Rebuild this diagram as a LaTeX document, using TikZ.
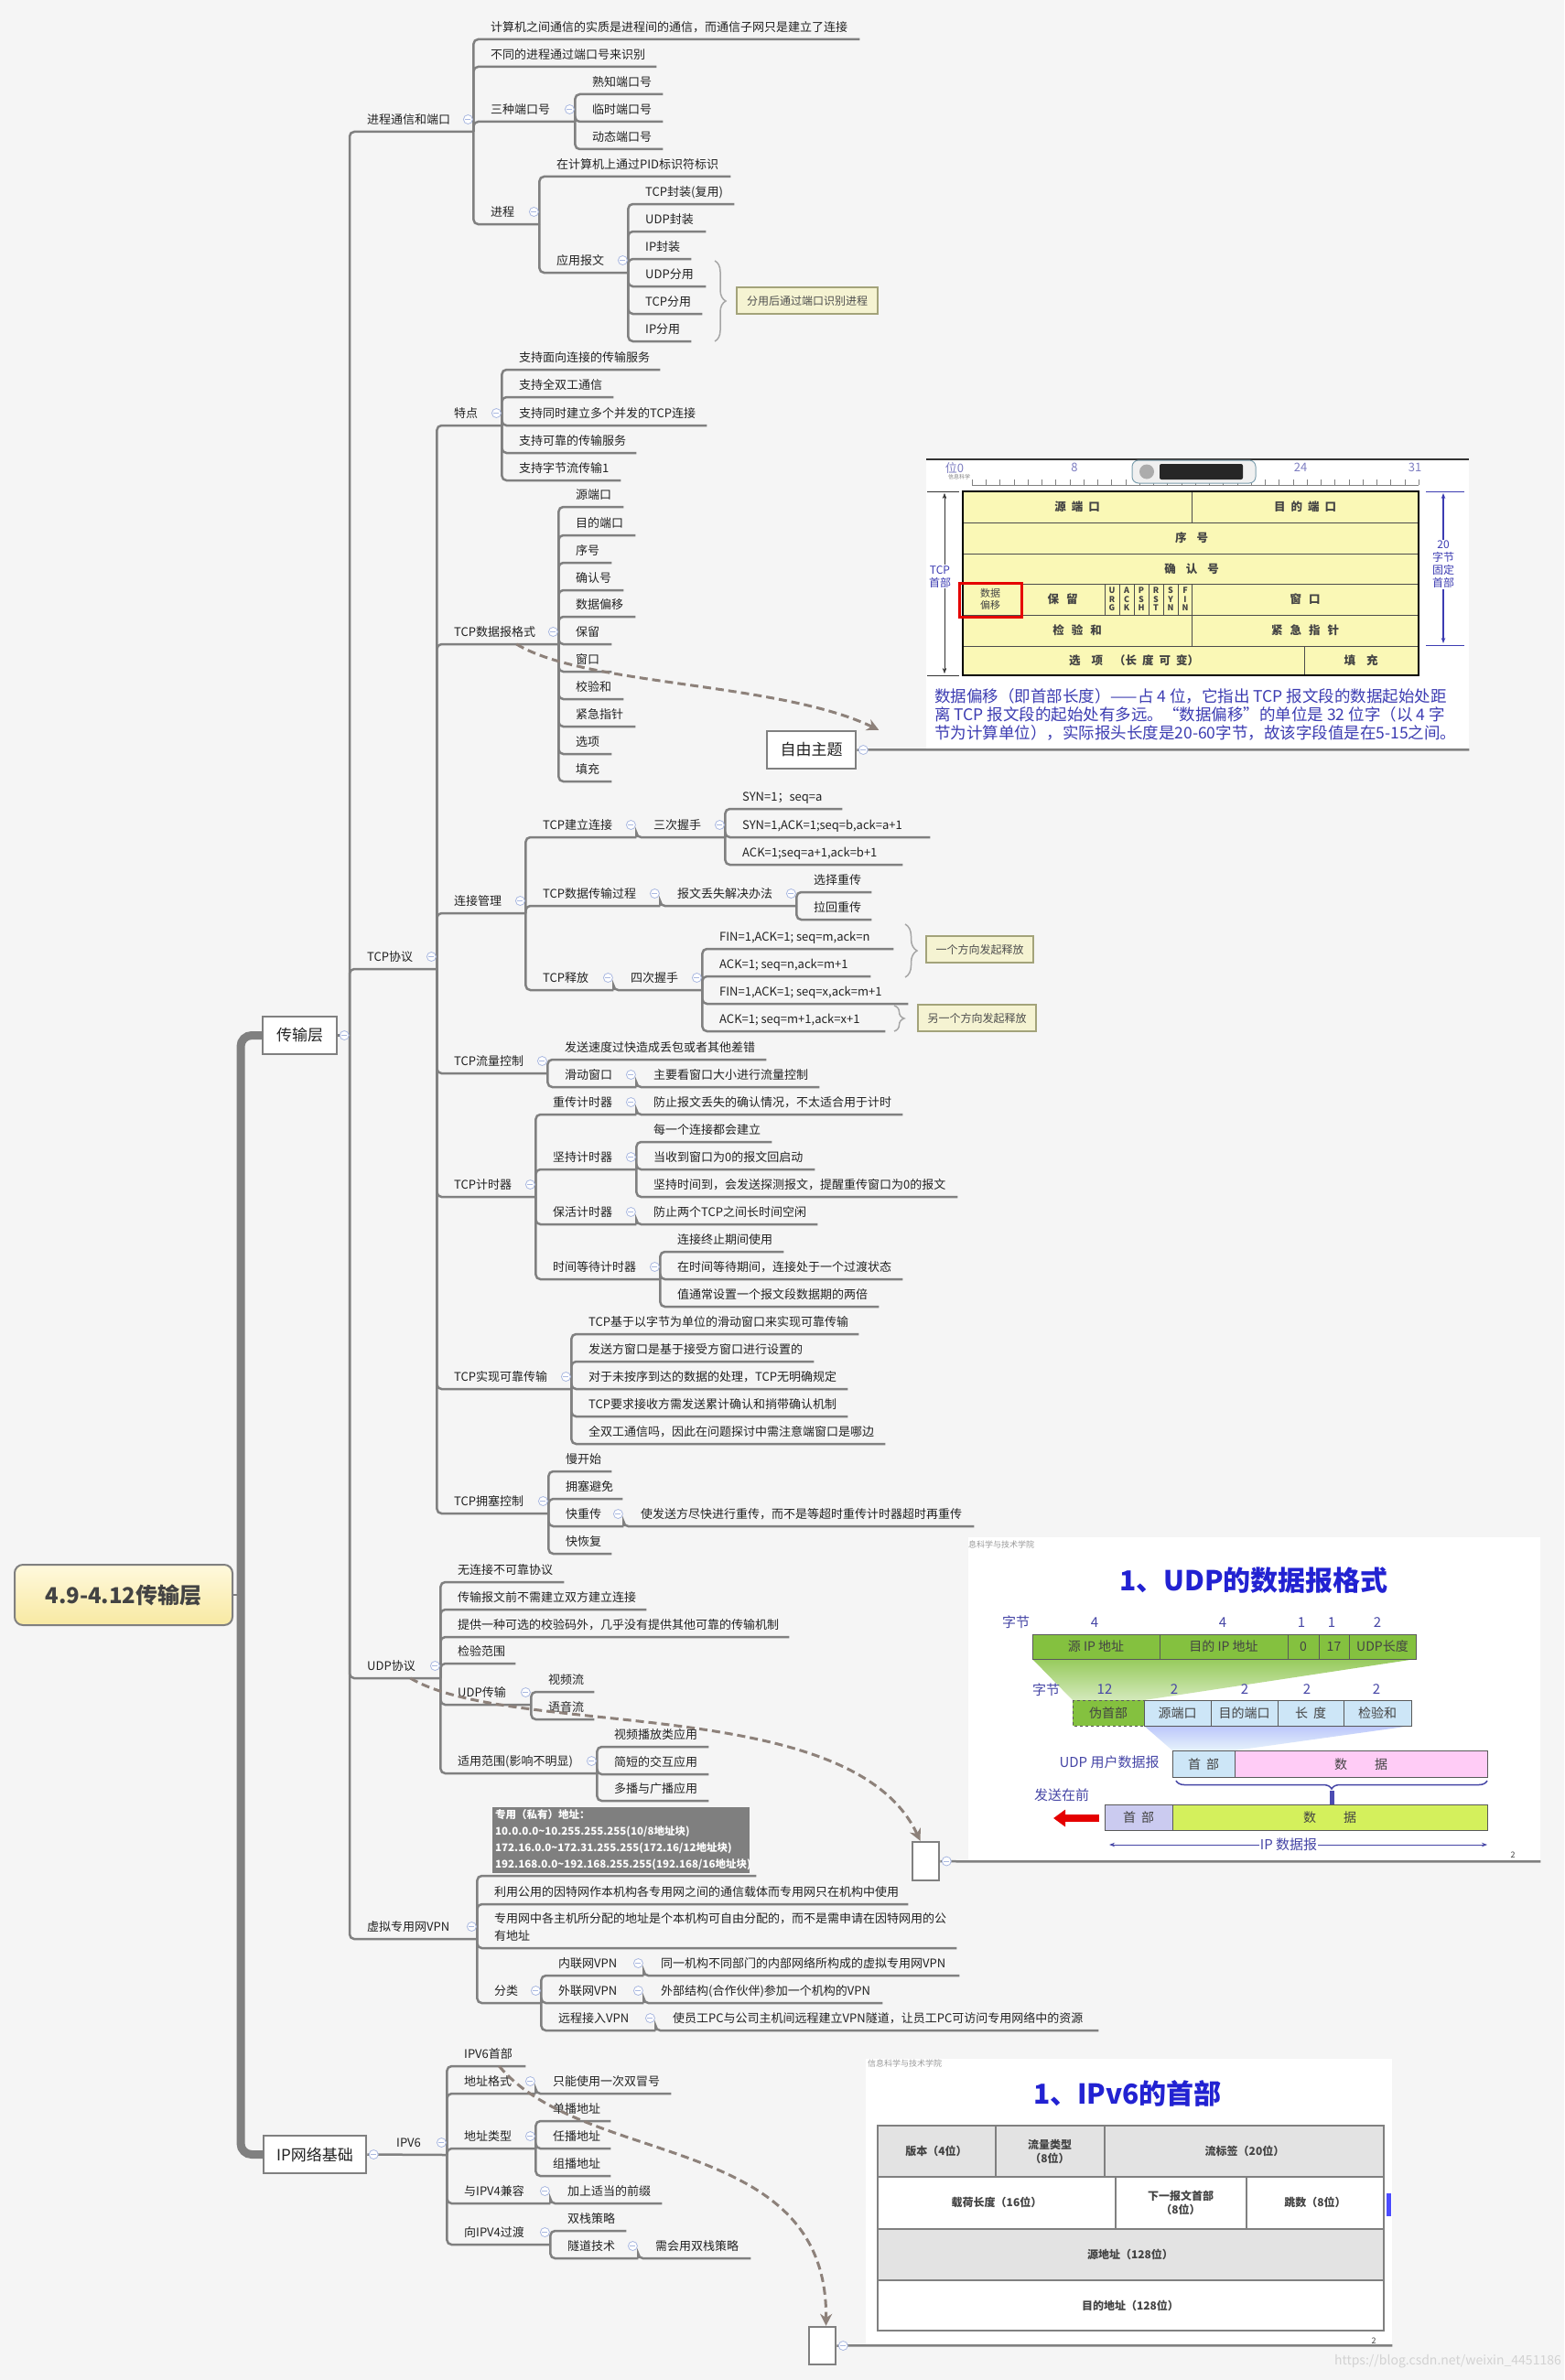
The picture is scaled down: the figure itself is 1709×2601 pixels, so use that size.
\documentclass[tikz,border=0pt]{standalone}
\usepackage{fontspec}
\setmainfont{Noto Sans CJK SC}
\usepackage{xcolor}
\usetikzlibrary{arrows.meta,decorations.pathreplacing}
\definecolor{bg}{HTML}{F5F5F5}
\definecolor{branch}{HTML}{808080}
\definecolor{ink}{HTML}{222222}
\definecolor{btn}{HTML}{A9B8E0}
\definecolor{calloutfill}{HTML}{F5F3D2}
\definecolor{calloutline}{HTML}{A3A37A}
\definecolor{relline}{HTML}{8D817A}
\definecolor{slideblue}{HTML}{2222D2}
\definecolor{capblue}{HTML}{3C3CB2}
\definecolor{labblue}{HTML}{4646A6}
\definecolor{hdrfill}{HTML}{FAF8B6}
\definecolor{notegray}{HTML}{7F7F7F}
\definecolor{udpgreen}{HTML}{84C13F}
\definecolor{udplight}{HTML}{CDE6F7}
\definecolor{udppink}{HTML}{FFCCF6}
\definecolor{iplav}{HTML}{CBCBF0}
\definecolor{iplime}{HTML}{D4F05C}
\definecolor{v6gray}{HTML}{E3E3E3}
\definecolor{rootA}{HTML}{FFF9DD}
\definecolor{rootB}{HTML}{F8E9A2}
% topic: name, branch x, line y, line end x, text
\newcommand\mmnode[5]{\node[topic] (#1) at (#2,#3) {\makebox[\dimexpr#4pt-#2pt\relax][l]{\hspace{19pt}#5}};}
\newcommand\lsp{\hspace{6pt}}

\begin{document}
\begin{tikzpicture}[x=1pt,y=-1pt,
  topic/.style={anchor=south west, inner sep=0pt, text height=12pt, text depth=8pt, font=\fontsize{13}{15}\selectfont, text=ink},
  ln/.style={draw=branch, line width=2.5pt, rounded corners=5pt},
  trunk/.style={draw=branch, line width=9pt, rounded corners=12pt},
  cbtn/.style={circle, draw=btn, fill=white, line width=0.8pt, minimum size=10pt, inner sep=0pt,
    path picture={\draw[btn, line width=0.8pt] ([xshift=-3pt]path picture bounding box.center) -- ([xshift=3pt]path picture bounding box.center);}},
  tbox/.style={draw=branch, line width=2.5pt, fill=white, inner sep=0pt, font=\fontsize{17}{20}\selectfont, text=ink},
  rootbox/.style={draw=branch, line width=2pt, rounded corners=9pt, top color=rootA, bottom color=rootB, minimum width=238pt, minimum height=66pt, font=\fontsize{24}{28}\selectfont\bfseries, text=ink!85},
  callout/.style={draw=calloutline, line width=1.5pt, fill=calloutfill, inner sep=0pt, minimum height=29pt, font=\fontsize{12}{14}\selectfont, text=ink!80},
  brc/.style={draw=gray!70, line width=1.5pt, decorate, decoration={brace, amplitude=12pt}},
  rel/.style={draw=relline, line width=3pt, dash pattern=on 9pt off 5pt, -{Stealth[length=13pt,width=13pt]}},
  note/.style={anchor=south west, fill=notegray, text=white, font=\fontsize{11.5}{18}\selectfont\bfseries, align=left, text width=275pt, minimum height=72pt, inner xsep=3pt, inner ysep=2pt},
  shot/.style={anchor=north west, fill=white, inner sep=0pt},
  rulab/.style={font=\fontsize{13}{15}\selectfont, text=labblue!70, inner sep=0pt},
  hlab/.style={font=\fontsize{12.5}{14}\selectfont\bfseries, text=ink!85, inner sep=0pt, align=center},
  slab/.style={font=\fontsize{15}{17}\selectfont, text=labblue, inner sep=1pt},
  ulab/.style={font=\fontsize{14}{16}\selectfont, text=ink!85, inner sep=0pt},
  ucell/.style={draw=gray!70!black, line width=1pt},
  v6lab/.style={font=\fontsize{12}{15}\selectfont\bfseries, text=ink!85, align=center, inner sep=0pt},
  slidetitle/.style={font=\fontsize{30}{34}\selectfont\bfseries, text=slideblue, inner sep=0pt},
  school/.style={anchor=west, font=\fontsize{9}{10}\selectfont, text=gray!80, inner sep=0pt}]

  % page
  \fill[bg] (0,0) rectangle (1709,2601);
  \useasboundingbox (0,0) rectangle (1709,2601);

  % root, main trunk
  \node[rootbox] (root) at (135,1743) {4.9-4.12传输层};
  \node[tbox, minimum width=81pt, minimum height=41pt] (trans) at (327.5,1131.5) {传输层};
  \node[tbox, minimum width=112pt, minimum height=41pt] (ipnet) at (344,2354.5) {IP网络基础};
  \coordinate (trunk) at (263,1743);
  \coordinate (transB) at (382,1131.5);
  \draw[trunk] (trans.west) -| (trunk) |- (ipnet.west);
  \draw[ln] (root.east) -- (trunk);
  \draw[ln] (trans.east) -- (transB);

  % 进程通信和端口
  \mmnode{pc}{382}{144}{517}{进程通信和端口}
  \mmnode{pc1}{517}{43}{939}{计算机之间通信的实质是进程间的通信，而通信子网只是建立了连接}
  \mmnode{pc2}{517}{73}{717}{不同的进程通过端口号来识别}
  \mmnode{pc3}{517}{133}{628}{三种端口号}
  \mmnode{pc31}{628}{103}{724}{熟知端口号}
  \mmnode{pc32}{628}{133}{724}{临时端口号}
  \mmnode{pc33}{628}{163}{724}{动态端口号}
  \mmnode{pc4}{517}{245}{589}{进程}
  \mmnode{pc41}{589}{193}{798}{在计算机上通过PID标识符标识}
  \mmnode{pc42}{589}{298}{686}{应用报文}
  \foreach \n/\y/\e/\t in {1/223/802/TCP封装(复用), 2/253/771/UDP封装, 3/283/755/IP封装,
                          4/313/771/UDP分用, 5/343/767/TCP分用, 6/373/755/IP分用}
    {\mmnode{pc42\n}{686}{\y}{\e}{\t}}
  \draw[brc] (781,285) -- (781,373);
  \node[callout, minimum width=154pt] (co1) at (882,328.5) {分用后通过端口识别进程};

  % TCP协议
  \mmnode{tcp}{382}{1059}{477}{TCP协议}
  \mmnode{td}{477}{465}{548}{特点}
  \foreach \n/\y/\e/\t in {1/404/721/支持面向连接的传输服务, 2/434/670/支持全双工通信,
                          3/465/772/支持同时建立多个并发的TCP连接, 4/495/695/支持可靠的传输服务,
                          5/525/678/支持字节流传输1}
    {\mmnode{td\n}{548}{\y}{\e}{\t}}
  \mmnode{fmt}{477}{704}{610}{TCP数据报格式}
  \foreach \n/\y/\e/\t in {1/554/681/源端口, 2/585/694/目的端口, 3/615/668/序号, 4/645/681/确认号,
                          5/674/694/数据偏移, 6/704/668/保留, 7/734/668/窗口, 8/764/681/校验和,
                          9/794/694/紧急指针, 10/824/668/选项, 11/854/668/填充}
    {\mmnode{f\n}{610}{\y}{\e}{\t}}
  \mmnode{cm}{477}{998}{574}{连接管理}
  \mmnode{cm1}{574}{915}{695}{TCP建立连接}
  \mmnode{cm11}{695}{915}{792}{三次握手}
  \mmnode{h1}{792}{884}{920}{SYN=1；seq=a}
  \mmnode{h2}{792}{915}{1016}{SYN=1,ACK=1;seq=b,ack=a+1}
  \mmnode{h3}{792}{945}{986}{ACK=1;seq=a+1,ack=b+1}
  \mmnode{cm2}{574}{990}{721}{TCP数据传输过程}
  \mmnode{cm21}{721}{990}{870}{报文丢失解决办法}
  \mmnode{r1}{870}{975}{952}{选择重传}
  \mmnode{r2}{870}{1005}{952}{拉回重传}
  \mmnode{cm3}{574}{1082}{670}{TCP释放}
  \mmnode{cm31}{670}{1082}{767}{四次握手}
  \mmnode{w1}{767}{1037}{976}{FIN=1,ACK=1; seq=m,ack=n}
  \mmnode{w2}{767}{1067}{951}{ACK=1; seq=n,ack=m+1}
  \mmnode{w3}{767}{1097}{992}{FIN=1,ACK=1; seq=x,ack=m+1}
  \mmnode{w4}{767}{1127}{967}{ACK=1; seq=m+1,ack=x+1}
  \draw[brc, decoration={brace, amplitude=13pt}] (989,1010) -- (989,1068);
  \node[callout, minimum width=117pt] (co2) at (1070.5,1037.5) {一个方向发起释放};
  \draw[brc, decoration={brace, amplitude=11pt}] (977,1099) -- (977,1127);
  \node[callout, minimum width=129pt] (co3) at (1067.5,1112.5) {另一个方向发起释放};
  \mmnode{fc}{477}{1173}{598}{TCP流量控制}
  \mmnode{fc1}{598}{1158}{837}{发送速度过快造成丢包或者其他差错}
  \mmnode{fc2}{598}{1188}{695}{滑动窗口}
  \mmnode{fc21}{695}{1188}{895}{主要看窗口大小进行流量控制}
  \mmnode{tm}{477}{1308}{585}{TCP计时器}
  \mmnode{tm1}{585}{1218}{695}{重传计时器}
  \mmnode{tm11}{695}{1218}{986}{防止报文丢失的确认情况，不太适合用于计时}
  \mmnode{tm2}{585}{1278}{695}{坚持计时器}
  \mmnode{tm21}{695}{1248}{843}{每一个连接都会建立}
  \mmnode{tm22}{695}{1278}{890}{当收到窗口为0的报文回启动}
  \mmnode{tm23}{695}{1308}{1046}{坚持时间到，会发送探测报文，提醒重传窗口为0的报文}
  \mmnode{tm3}{585}{1338}{695}{保活计时器}
  \mmnode{tm31}{695}{1338}{893}{防止两个TCP之间长时间空闲}
  \mmnode{tm4}{585}{1398}{721}{时间等待计时器}
  \mmnode{tm41}{721}{1368}{856}{连接终止期间使用}
  \mmnode{tm42}{721}{1398}{986}{在时间等待期间，连接处于一个过渡状态}
  \mmnode{tm43}{721}{1428}{960}{值通常设置一个报文段数据期的两倍}
  \mmnode{rt}{477}{1518}{624}{TCP实现可靠传输}
  \foreach \n/\y/\e/\t in {1/1458/938/TCP基于以字节为单位的滑动窗口来实现可靠传输,
                          2/1488/889/发送方窗口是基于接受方窗口进行设置的,
                          3/1518/926/对于未按序到达的数据的处理，TCP无明确规定,
                          4/1548/926/TCP要求接收方需发送累计确认和捎带确认机制,
                          5/1578/967/全双工通信吗，因此在问题探讨中需注意端窗口是哪边}
    {\mmnode{rt\n}{624}{\y}{\e}{\t}}
  \mmnode{cc}{477}{1654}{599}{TCP拥塞控制}
  \mmnode{cc1}{599}{1608}{668}{慢开始}
  \mmnode{cc2}{599}{1638}{680}{拥塞避免}
  \mmnode{cc3}{599}{1668}{681}{快重传}
  \mmnode{cc31}{681}{1668}{1064}{使发送方尽快进行重传，而不是等超时重传计时器超时再重传}
  \mmnode{cc4}{599}{1698}{668}{快恢复}

  % UDP协议
  \mmnode{udp}{382}{1834}{481}{UDP协议}
  \mmnode{u1}{481}{1729}{616}{无连接不可靠协议}
  \mmnode{u2}{481}{1759}{706}{传输报文前不需建立双方建立连接}
  \mmnode{u3}{481}{1789}{862}{提供一种可选的校验码外，几乎没有提供其他可靠的传输机制}
  \mmnode{u4}{481}{1818}{563}{检验范围}
  \mmnode{u5}{481}{1863}{580}{UDP传输}
  \mmnode{u51}{580}{1849}{649}{视频流}
  \mmnode{u52}{580}{1879}{649}{语音流}
  \mmnode{u6}{481}{1938}{652}{适用范围(影响不明显)}
  \mmnode{u61}{652}{1909}{774}{视频播放类应用}
  \mmnode{u62}{652}{1939}{774}{简短的交互应用}
  \mmnode{u63}{652}{1968}{774}{多播与广播应用}

  % 虚拟专用网VPN
  \mmnode{vpn}{382}{2119}{521}{虚拟专用网VPN}
  \mmnode{v0}{521}{2050}{826}{}
  \node[note] (v0n) at (538,2047) {专用（私有）地址：\\10.0.0.0\textasciitilde10.255.255.255(10/8地址块)\\172.16.0.0\textasciitilde172.31.255.255(172.16/12地址块)\\192.168.0.0\textasciitilde192.168.255.255(192.168/16地址块)};
  \mmnode{v1}{521}{2081}{992}{利用公用的因特网作本机构各专用网之间的通信载体而专用网只在机构中使用}
  \mmnode{v2}{521}{2129}{1045}{\begin{tabular}[b]{@{}l@{}}专用网中各主机所分配的地址是个本机构可自由分配的，而不是需申请在因特网用的公\\[4pt]有地址\end{tabular}}
  \mmnode{v3}{521}{2189}{591}{分类}
  \mmnode{v31}{591}{2159}{703}{内联网VPN}
  \mmnode{v311}{703}{2159}{1048}{同一机构不同部门的内部网络所构成的虚拟专用网VPN}
  \mmnode{v32}{591}{2189}{703}{外联网VPN}
  \mmnode{v321}{703}{2189}{964}{外部结构(合作伙伴)参加一个机构的VPN}
  \mmnode{v33}{591}{2219}{716}{远程接入VPN}
  \mmnode{v331}{716}{2219}{1200}{使员工PC与公司主机间远程建立VPN隧道，让员工PC可访问专用网络中的资源}

  % IP网络基础
  \mmnode{ipv6}{414}{2355}{488}{IPV6}
  \mmnode{i1}{488}{2258}{574}{IPV6首部}
  \mmnode{i2}{488}{2288}{585}{地址格式}
  \mmnode{i21}{585}{2288}{733}{只能使用一次双冒号}
  \mmnode{i3}{488}{2348}{585}{地址类型}
  \mmnode{i31}{585}{2318}{667}{单播地址}
  \mmnode{i32}{585}{2348}{667}{任播地址}
  \mmnode{i33}{585}{2378}{667}{组播地址}
  \mmnode{i4}{488}{2408}{601}{与IPV4兼容}
  \mmnode{i41}{601}{2408}{723}{加上适当的前缀}
  \mmnode{i5}{488}{2453}{601}{向IPV4过渡}
  \mmnode{i51}{601}{2438}{684}{双栈策略}
  \mmnode{i52}{601}{2468}{697}{隧道技术}
  \mmnode{i521}{697}{2468}{820}{需会用双栈策略}

  % branches
  \foreach \c in {pc,tcp,udp,vpn} \draw[ln] (transB) |- (\c.south east);
  \draw[ln] (ipnet.east) -- (ipv6.south east);
  \foreach \p/\c in {pc/pc1,pc/pc2,pc/pc3,pc/pc4,pc3/pc31,pc3/pc32,pc3/pc33,pc4/pc41,pc4/pc42,
      pc42/pc421,pc42/pc422,pc42/pc423,pc42/pc424,pc42/pc425,pc42/pc426,
      tcp/td,tcp/fmt,tcp/cm,tcp/fc,tcp/tm,tcp/rt,tcp/cc,
      td/td1,td/td2,td/td3,td/td4,td/td5,
      cm/cm1,cm/cm2,cm/cm3,cm1/cm11,cm11/h1,cm11/h2,cm11/h3,cm2/cm21,cm21/r1,cm21/r2,
      cm3/cm31,cm31/w1,cm31/w2,cm31/w3,cm31/w4,
      fc/fc1,fc/fc2,fc2/fc21,tm/tm1,tm/tm2,tm/tm3,tm/tm4,tm1/tm11,tm2/tm21,tm2/tm22,tm2/tm23,
      tm3/tm31,tm4/tm41,tm4/tm42,tm4/tm43,rt/rt1,rt/rt2,rt/rt3,rt/rt4,rt/rt5,
      cc/cc1,cc/cc2,cc/cc3,cc/cc4,cc3/cc31,
      udp/u1,udp/u2,udp/u3,udp/u4,udp/u5,udp/u6,u5/u51,u5/u52,u6/u61,u6/u62,u6/u63,
      vpn/v0,vpn/v1,vpn/v2,vpn/v3,v3/v31,v3/v32,v3/v33,v31/v311,v32/v321,v33/v331,
      ipv6/i1,ipv6/i2,ipv6/i3,ipv6/i4,ipv6/i5,i2/i21,i3/i31,i3/i32,i3/i33,i4/i41,
      i5/i51,i5/i52,i52/i521}
    \draw[ln] (\p.south east) |- (\c.south east);
  \foreach \n in {1,...,11} \draw[ln] (fmt.south east) |- (f\n.south east);

  % TCP header slide
  \node[shot, minimum width=593pt, minimum height=317pt] (tcpimg) at (1012,502) {};
  \draw[black!80, line width=2pt] (tcpimg.north west) -- (tcpimg.north east);
  \draw[gray] (1062,530) -- (1550,530);
  \foreach \i in {0,...,32} \draw[gray] (1062+\i*15.25,530) -- (1062+\i*15.25,524);
  \foreach \x/\t [count=\i] in {1043/位0,1174/8,1421/24,1546/31} \node[rulab] (bit\i) at (\x,511) {\t};
  \node[rulab, font=\fontsize{6}{7}\selectfont, text=gray] (rulsch) at (1048,521) {信息科学};
  \draw[fill=gray!12, draw=cyan!30!gray, line width=1pt, rounded corners=7pt] (1237,503) rectangle (1372,528);
  \fill[gray!65] (1253,515.5) circle (8);
  \fill[black!85, rounded corners=2pt] (1267,507) rectangle (1358,524);
  \fill[hdrfill] (1052,537) rectangle (1550,738);
  \foreach \y in {571,605,638,672,706} \draw[black!70, line width=1pt] (1052,\y) -- (1550,\y);
  \draw[black!70, line width=1pt] (1302,537) -- (1302,571) (1302,672) -- (1302,706) (1425,706) -- (1425,738);
  \foreach \x in {1207,1223,1239,1255,1271,1287,1302} \draw[black!70, line width=1pt] (\x,638) -- (\x,672);
  \draw[black, line width=1.8pt] (1052,537) rectangle (1550,738);
  \node[hlab] (hsp) at (1177,554) {源\lsp 端\lsp 口};
  \node[hlab] (hdp) at (1426,554) {目\lsp 的\lsp 端\lsp 口};
  \node[hlab] (hsq) at (1302,588) {序\hspace{11pt}号};
  \node[hlab] (hak) at (1302,622) {确\hspace{11pt}认\hspace{11pt}号};
  \node[hlab, font=\fontsize{11}{13}\selectfont] (hoff) at (1082,655) {数据\\偏移};
  \node[hlab] (hres) at (1161,655) {保\hspace{8pt}留};
  \foreach \x/\a/\b/\c in {1215/U/R/G,1231/A/C/K,1247/P/S/H,1263/R/S/T,1279/S/Y/N,1295/F/I/N}
    \node[hlab, font=\fontsize{9}{9.5}\selectfont\bfseries] (flag\x) at (\x,655) {\a\\\b\\\c};
  \node[hlab] (hwin) at (1426,655) {窗\hspace{8pt}口};
  \node[hlab] (hsum) at (1177,689) {检\hspace{8pt}验\hspace{8pt}和};
  \node[hlab] (hurg) at (1426,689) {紧\hspace{8pt}急\hspace{8pt}指\hspace{8pt}针};
  \node[hlab] (hopt) at (1239,722) {选\hspace{12pt}项\hspace{12pt}（长\lsp 度\lsp 可\lsp 变）};
  \node[hlab] (hpad) at (1487,722) {填\hspace{12pt}充};
  \draw[red!90!black, line width=3pt] (1048,637) rectangle (1116,674);
  \draw[black!80] (1013,537) -- (1048,537) (1013,738) -- (1048,738);
  \draw[black!80, {Stealth[length=6pt]}-{Stealth[length=6pt]}] (1032,539) -- (1032,736);
  \node[fill=white, inner sep=1pt, align=center, text=capblue, font=\fontsize{12}{14}\selectfont] (hlen) at (1027,630) {TCP\\首部};
  \draw[capblue] (1558,537) -- (1600,537) (1558,705) -- (1600,705);
  \draw[capblue, line width=1.2pt, {Stealth[length=6pt]}-{Stealth[length=6pt]}] (1577,539) -- (1577,703);
  \node[fill=white, inner sep=1pt, align=center, text=capblue, font=\fontsize{12}{14}\selectfont] (hfix) at (1577,617) {20\\字节\\固定\\首部};
  \node[anchor=north west, inner sep=0pt, align=left, text=capblue, font=\fontsize{17.5}{20}\selectfont] (tcpcap) at (1021,752)
    {数据偏移（即首部长度）——占 4 位，它指出 TCP 报文段的数据起始处距\\离 TCP 报文段的起始处有多远。“数据偏移”的单位是 32 位字（以 4 字\\节为计算单位），实际报头长度是20-60字节，故该字段值是在5-15之间。};

  % free topic with the slide
  \node[tbox, minimum width=97pt, minimum height=41pt] (free) at (886.5,819.5) {自由主题};
  \draw[ln] (free.east) -- (tcpimg.south west) -- (tcpimg.south east);

  % UDP slide
  \node[shot, minimum width=625pt, minimum height=354pt] (udpimg) at (1058,1680) {};
  \node[school] (udpsch) at (1058,1688) {息科学与技术学院};
  \node[slidetitle] (udpttl) at (1370,1727) {1、UDP的数据报格式};
  \node[slab] (udpb1) at (1110,1773) {字节};
  \foreach \x/\t [count=\i] in {1196/4,1336/4,1422/1,1455/1,1505/2} \node[slab] (ua\i) at (\x,1773) {\t};
  \shade[top color=udpgreen!85, bottom color=udpgreen!35] (1128,1813) -- (1547,1813) -- (1250,1858) -- (1172,1858) -- cycle;
  \foreach \a/\b/\t [count=\i] in {1128/1267/源 IP 地址,1267/1407/目的 IP 地址,1407/1441/0,1441/1474/17,1474/1547/UDP长度}
    {\draw[ucell, fill=udpgreen] (\a,1786) rectangle (\b,1813);
     \node[ulab] (ph\i) at ({(\a+\b)/2},1799.5) {\t};}
  \node[slab] (udpb2) at (1143,1847) {字节};
  \foreach \x/\t [count=\i] in {1207/12,1283/2,1360/2,1428/2,1504/2} \node[slab] (ub\i) at (\x,1846) {\t};
  \shade[top color=udplight!70!blue!60, bottom color=udplight!50] (1250,1886) -- (1542,1886) -- (1349,1913) -- (1281,1913) -- cycle;
  \draw[ucell, dashed, fill=udpgreen] (1172,1858) rectangle (1250,1886);
  \node[ulab] (uh0) at (1211,1872) {伪首部};
  \foreach \a/\b/\t [count=\i] in {1250/1323/源端口,1323/1396/目的端口,1396/1468/长\lsp 度,1468/1542/检验和}
    {\draw[ucell, fill=udplight] (\a,1858) rectangle (\b,1886);
     \node[ulab] (uh\i) at ({(\a+\b)/2},1872) {\t};}
  \node[slab] (udpdg) at (1212,1926) {UDP 用户数据报};
  \draw[ucell, fill=udplight] (1281,1913) rectangle (1349,1942);
  \draw[ucell, fill=udppink] (1349,1913) rectangle (1625,1942);
  \node[ulab] (ud1) at (1315,1928) {首\lsp 部};
  \node[ulab] (ud2) at (1487,1928) {数\hspace{30pt}据};
  \draw[labblue, line width=1.5pt, decorate, decoration={brace, mirror, amplitude=9pt}] (1285,1946) -- (1625,1946);
  \draw[line width=5pt, color=blue!40!gray, -{Triangle[length=7pt,width=12pt]}] (1455,1957) -- (1455,1986);
  \node[slab] (udpfst) at (1160,1962) {发送在前};
  \draw[line width=8pt, color=red!90!black, -{Triangle[length=13pt,width=18pt]}] (1201,1987) -- (1151,1987);
  \draw[ucell, fill=iplav] (1207,1972) rectangle (1281,2000);
  \draw[ucell, fill=iplime] (1281,1972) rectangle (1625,2000);
  \node[ulab] (ip1) at (1244,1986) {首\lsp 部};
  \node[ulab] (ip2) at (1453,1986) {数\hspace{30pt}据};
  \draw[labblue, line width=1pt, {Stealth[length=6pt]}-{Stealth[length=6pt]}] (1212,2016) -- (1625,2016);
  \node[slab, fill=white] (ipdg) at (1408,2016) {IP 数据报};
  \node[ulab, font=\fontsize{9}{10}\selectfont] (udppg) at (1653,2027) {2};
  \node[tbox, minimum width=29pt, minimum height=42pt] (ubox) at (1011.5,2034) {};
  \draw[ln] (ubox.east) -- (udpimg.south west) -- (udpimg.south east);

  % IPv6 slide
  \node[shot, minimum width=575pt, minimum height=313pt] (v6img) at (946,2250) {};
  \node[school] (v6sch) at (948,2255) {信息科学与技术学院};
  \node[slidetitle] (v6ttl) at (1232,2288) {1、IPv6的首部};
  \fill[v6gray] (959,2323) rectangle (1512,2379) (959,2436) rectangle (1512,2492);
  \draw[gray, line width=1.2pt] (959,2323) rectangle (1512,2547)
    (959,2379) -- (1512,2379) (959,2436) -- (1512,2436) (959,2492) -- (1512,2492)
    (1088,2323) -- (1088,2379) (1207,2323) -- (1207,2379) (1219,2379) -- (1219,2436) (1362,2379) -- (1362,2436);
  \node[v6lab] (v6a) at (1023,2351) {版本（4位）};
  \node[v6lab] (v6b) at (1147,2351) {流量类型\\（8位）};
  \node[v6lab] (v6c) at (1360,2351) {流标签（20位）};
  \node[v6lab] (v6d) at (1089,2407) {载荷长度（16位）};
  \node[v6lab] (v6e) at (1290,2407) {下一报文首部\\（8位）};
  \node[v6lab] (v6f) at (1437,2407) {跳数（8位）};
  \node[v6lab] (v6g) at (1235,2464) {源地址（128位）};
  \node[v6lab] (v6h) at (1235,2520) {目的地址（128位）};
  \fill[blue!70] (1515,2397) rectangle (1520,2422);
  \node[ulab, font=\fontsize{9}{10}\selectfont] (v6pg) at (1501,2558) {2};
  \node[tbox, minimum width=29pt, minimum height=41pt] (vbox) at (898.5,2563.5) {};
  \draw[ln] (vbox.east) -- (v6img.south west) -- (v6img.south east);
  \node[anchor=east, inner sep=0pt, text=gray!35, font=\fontsize{14}{16}\selectfont] (mark) at (1706,2581) {https://blog.csdn.net/weixin\_4451186};

  % relationships
  \draw[rel] ([xshift=-46pt]fmt.south east) .. controls (640,750) and (850,745) .. ([xshift=24pt]free.north east);
  \draw[rel] ([xshift=-33pt]udp.south east) .. controls (560,1900) and (930,1850) .. ([xshift=-6pt]ubox.north);
  \draw[rel] ([xshift=-29pt]i1.south east) .. controls (640,2370) and (905,2330) .. ([xshift=4pt]vbox.north);

  % collapse buttons
  \foreach \p in {pc,pc3,pc4,pc42,tcp,td,fmt,cm,cm1,cm11,cm2,cm21,cm3,cm31,fc,fc2,tm,tm1,tm2,tm3,tm4,
                  rt,cc,cc3,udp,u5,u6,vpn,v3,v31,v32,v33,ipv6,i2,i3,i4,i5,i52}
    \node[cbtn, xshift=-6pt, yshift=13.5pt] (\p-b) at (\p.south east) {};
  \foreach \p in {trans,ipnet,free,ubox,vbox}
    \node[cbtn, xshift=7pt] (\p-b) at (\p.east) {};
\end{tikzpicture}
\end{document}
